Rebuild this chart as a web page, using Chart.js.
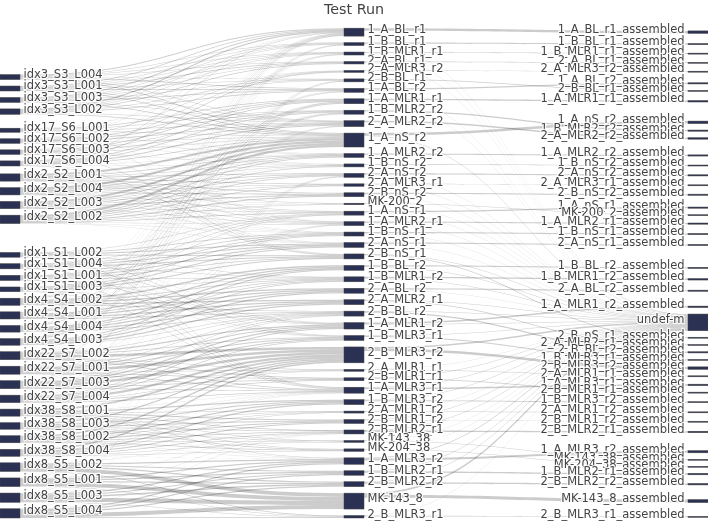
<!DOCTYPE html>
<html>
<head>
<meta charset="utf-8">
<script src="https://cdn.jsdelivr.net/npm/chart.js@4.4.1/dist/chart.umd.min.js"></script>
<style>
  html, body { margin: 0; padding: 0; background: #fff; }
  #wrap { width: 708px; height: 521px; }
</style>
</head>
<body>
<div id="wrap"><canvas id="sankey" width="708" height="521"></canvas></div>
<script>
// sequencing lanes (left column), in display order
const libraries = [
  'idx3_S3_L004', 'idx3_S3_L001', 'idx3_S3_L003', 'idx3_S3_L002',
  'idx17_S6_L001', 'idx17_S6_L002', 'idx17_S6_L003', 'idx17_S6_L004',
  'idx2_S2_L001', 'idx2_S2_L004', 'idx2_S2_L003', 'idx2_S2_L002',
  'idx1_S1_L002', 'idx1_S1_L004', 'idx1_S1_L001', 'idx1_S1_L003',
  'idx4_S4_L002', 'idx4_S4_L001', 'idx4_S4_L004', 'idx4_S4_L003',
  'idx22_S7_L002', 'idx22_S7_L001', 'idx22_S7_L003', 'idx22_S7_L004',
  'idx38_S8_L001', 'idx38_S8_L003', 'idx38_S8_L002', 'idx38_S8_L004',
  'idx8_S5_L002', 'idx8_S5_L001', 'idx8_S5_L003', 'idx8_S5_L004'
];
// relative size of each lane inside its pool
const laneReads = [
  5, 5, 5, 5.5,
  4, 4.5, 4.5, 5,
  6.5, 6.5, 6.5, 7.5,
  5.5, 6, 6, 5.5,
  7, 7, 6.5, 6.5,
  7.5, 7.5, 7.5, 7,
  7.5, 7, 7.5, 7.5,
  7.5, 7.5, 8, 8
];

// samples (middle column), in display order
const samples = [
  '1_A_BL_r1', '1_B_BL_r1', '1_B_MLR1_r1', '2_A_BL_r1', '2_A_MLR3_r2', '2_B_BL_r1',
  '1_A_BL_r2', '1_A_MLR1_r1', '1_B_MLR2_r2', '2_A_MLR2_r2', '1_A_nS_r2', '1_A_MLR2_r2',
  '1_B_nS_r2', '2_A_nS_r2', '2_A_MLR3_r1', '2_B_nS_r2', 'MK-200_2', '1_A_nS_r1',
  '1_A_MLR2_r1', '1_B_nS_r1', '2_A_nS_r1', '2_B_nS_r1', '1_B_BL_r2', '1_B_MLR1_r2',
  '2_A_BL_r2', '2_A_MLR2_r1', '2_B_BL_r2', '1_A_MLR1_r2', '1_B_MLR3_r1', '2_B_MLR3_r2',
  '2_A_MLR1_r1', '2_B_MLR1_r1', '1_A_MLR3_r1', '1_B_MLR3_r2', '2_A_MLR1_r2', '2_B_MLR1_r2',
  '2_B_MLR2_r1', 'MK-143_38', 'MK-204_38', '1_A_MLR3_r2', '1_B_MLR2_r1', '2_B_MLR2_r2',
  'MK-143_8', '2_B_MLR3_r1'
];

// reads from each index pool to each sample (split over the pool's lanes)
const poolToSample = [
  ['idx3_S3', '1_A_BL_r1', 4], ['idx3_S3', '1_B_BL_r1', 2], ['idx3_S3', '1_B_MLR1_r1', 2],
  ['idx3_S3', '2_A_BL_r1', 2.5], ['idx3_S3', '2_B_BL_r1', 2], ['idx3_S3', '1_A_BL_r2', 3],
  ['idx3_S3', '2_A_MLR2_r2', 2], ['idx3_S3', '1_A_nS_r2', 3],

  ['idx17_S6', '1_A_BL_r1', 1], ['idx17_S6', '2_A_MLR3_r2', 2], ['idx17_S6', '1_A_MLR1_r1', 3],
  ['idx17_S6', '1_B_MLR2_r2', 2.5], ['idx17_S6', '2_A_MLR2_r2', 3], ['idx17_S6', '1_A_nS_r2', 2.5],
  ['idx17_S6', '1_A_MLR2_r2', 1], ['idx17_S6', '1_B_nS_r2', 1], ['idx17_S6', '1_A_MLR2_r1', 1],
  ['idx17_S6', '2_B_nS_r1', 1.5],

  ['idx2_S2', '1_A_nS_r2', 8.5], ['idx2_S2', '1_A_MLR2_r2', 3], ['idx2_S2', '1_B_nS_r2', 2],
  ['idx2_S2', '2_A_nS_r2', 3], ['idx2_S2', '2_A_MLR3_r1', 2.5], ['idx2_S2', '2_B_nS_r2', 4],
  ['idx2_S2', 'MK-200_2', 1.5], ['idx2_S2', '1_A_nS_r1', 2], ['idx2_S2', '1_A_MLR2_r1', 2],
  ['idx2_S2', '1_B_nS_r1', 1], ['idx2_S2', '2_A_nS_r1', 1],

  ['idx1_S1', '1_A_nS_r1', 2], ['idx1_S1', '1_B_nS_r1', 3], ['idx1_S1', '2_A_nS_r1', 4],
  ['idx1_S1', '2_B_nS_r1', 3.5], ['idx1_S1', '1_B_MLR1_r2', 2], ['idx1_S1', '1_A_MLR1_r2', 2],
  ['idx1_S1', '1_B_MLR3_r1', 1.5], ['idx1_S1', '1_A_MLR3_r1', 2],

  ['idx4_S4', '1_A_BL_r1', 1.3], ['idx4_S4', '1_B_MLR1_r1', 1], ['idx4_S4', '1_A_BL_r2', 1],
  ['idx4_S4', '1_A_MLR1_r1', 2], ['idx4_S4', '1_B_MLR2_r2', 1.5], ['idx4_S4', '1_B_BL_r2', 5],
  ['idx4_S4', '1_B_MLR1_r2', 3], ['idx4_S4', '2_A_BL_r2', 5], ['idx4_S4', '2_A_MLR2_r1', 5],
  ['idx4_S4', '2_B_BL_r2', 3],

  ['idx22_S7', '1_A_BL_r1', 1.7], ['idx22_S7', '2_A_MLR2_r2', 1], ['idx22_S7', '1_A_MLR2_r1', 1],
  ['idx22_S7', '2_B_BL_r2', 2], ['idx22_S7', '1_A_MLR1_r2', 4.5], ['idx22_S7', '1_B_MLR3_r1', 3.5],
  ['idx22_S7', '2_B_MLR3_r2', 10], ['idx22_S7', '2_A_MLR1_r1', 2], ['idx22_S7', '2_B_MLR1_r1', 3],
  ['idx22_S7', '1_A_MLR3_r1', 3],

  ['idx38_S8', '1_B_BL_r1', 1], ['idx38_S8', '2_B_MLR3_r2', 6], ['idx38_S8', '1_A_MLR3_r1', 1],
  ['idx38_S8', '1_B_MLR3_r2', 5], ['idx38_S8', '2_A_MLR1_r2', 2], ['idx38_S8', '2_B_MLR1_r2', 4],
  ['idx38_S8', '2_B_MLR2_r1', 3], ['idx38_S8', 'MK-143_38', 2], ['idx38_S8', 'MK-204_38', 2.5],
  ['idx38_S8', '1_A_MLR3_r2', 1.5],

  ['idx8_S5', '2_B_BL_r1', 1], ['idx8_S5', '2_A_nS_r2', 1], ['idx8_S5', '2_B_MLR2_r1', 1],
  ['idx8_S5', '1_A_MLR3_r2', 5], ['idx8_S5', '1_B_MLR2_r1', 4.5], ['idx8_S5', '2_B_MLR2_r2', 5],
  ['idx8_S5', 'MK-143_8', 16], ['idx8_S5', '2_B_MLR3_r1', 2.5]
];

// assembly outputs (right column), in display order
const outputs = [
  '1_A_BL_r1_assembled', '1_B_BL_r1_assembled', '1_B_MLR1_r1_assembled', '2_A_BL_r1_assembled',
  '2_A_MLR3_r2_assembled', '1_A_BL_r2_assembled', '2_B_BL_r1_assembled', '1_A_MLR1_r1_assembled',
  '1_A_nS_r2_assembled', '1_B_MLR2_r2_assembled', '2_A_MLR2_r2_assembled', '1_A_MLR2_r2_assembled',
  '1_B_nS_r2_assembled', '2_A_nS_r2_assembled', '2_A_MLR3_r1_assembled', '2_B_nS_r2_assembled',
  '1_A_nS_r1_assembled', 'MK-200_2_assembled', '1_A_MLR2_r1_assembled', '1_B_nS_r1_assembled',
  '2_A_nS_r1_assembled', '1_B_BL_r2_assembled', '1_B_MLR1_r2_assembled', '2_A_BL_r2_assembled',
  '1_A_MLR1_r2_assembled', 'undef-m', '2_B_nS_r1_assembled', '2_A_MLR2_r1_assembled',
  '2_B_BL_r2_assembled', '1_B_MLR3_r1_assembled', '2_B_MLR3_r2_assembled', '2_A_MLR1_r1_assembled',
  '1_A_MLR3_r1_assembled', '2_B_MLR1_r1_assembled', '1_B_MLR3_r2_assembled', '2_A_MLR1_r2_assembled',
  '2_B_MLR1_r2_assembled', '2_B_MLR2_r1_assembled', '1_A_MLR3_r2_assembled', 'MK-143_38_assembled',
  'MK-204_38_assembled', '1_B_MLR2_r1_assembled', '2_B_MLR2_r2_assembled', 'MK-143_8_assembled',
  '2_B_MLR3_r1_assembled'
];
// per sample (same order as samples): reads that assembled, reads left undefined
const assembledReads = [
  2.5, 1.2, 0.8, 0.8, 0.5, 0.8, 1.2, 1.5, 1.2, 1.5, 2.5,
  1.2, 0.8, 1.2, 0.5, 1.2, 0.6, 1.2, 1.2, 1.2, 1.2, 0.8,
  1.2, 1.5, 1.2, 0.8, 1.2, 1.5, 1, 2.5, 0.5, 0.6, 1.5,
  1, 0.5, 0.6, 1.5, 0.5, 0.6, 2.2, 1.5, 1.5, 3, 0.8
];
const undefinedReads = [
  0.2, 0.15, 0.1, 0.15, 0.1, 0.15, 0.2, 0.2, 0.15, 0.2, 0.45,
  0.2, 0.15, 0.2, 0.15, 0.2, 0.1, 0.2, 0.25, 0.25, 0.4, 0.5,
  0.45, 0.5, 0.4, 0.45, 0.5, 0.55, 0.4, 1.6, 0.3, 0.35, 0.55,
  0.5, 0.3, 0.4, 0.5, 0.35, 0.4, 0.6, 0.5, 0.55, 1.7, 0.3
];

const NODE_W = 20;
const NODE_PAD = 6.5;
const CANVAS_W = 708;
const NODE_COLOR = '#2b3153';
const LINK_COLOR = 'rgba(0,0,0,0.2)';
const FONT = '11.5px "DejaVu Sans", Verdana, sans-serif';

const sum = (arr, f) => arr.reduce((a, d) => a + f(d), 0);

// build nodes + links, then a sankey style vertical layout in value units
function buildSankey() {
  const byKey = {};
  const mk = (name, col) => {
    const n = { name, col, sourceLinks: [], targetLinks: [] };
    byKey[col + ':' + name] = n;
    return n;
  };
  const columns = [libraries.map(n => mk(n, 0)), samples.map(n => mk(n, 1)), outputs.map(n => mk(n, 2))];
  const links = [];
  const addLink = (source, target, value) => {
    if (!source || !target || value <= 0) return;
    const l = { source, target, value };
    links.push(l);
    source.sourceLinks.push(l);
    target.targetLinks.push(l);
  };

  poolToSample.forEach(([pool, sample, value]) => {
    const lanes = [];
    libraries.forEach((name, i) => { if (name.startsWith(pool + '_')) lanes.push(i); });
    const total = sum(lanes, i => laneReads[i]);
    lanes.forEach(i => addLink(columns[0][i], byKey['1:' + sample], value * laneReads[i] / total));
  });
  samples.forEach((s, i) => {
    addLink(columns[1][i], byKey['2:' + s + '_assembled'], assembledReads[i]);
    addLink(columns[1][i], byKey['2:undef-m'], undefinedReads[i]);
  });

  columns.flat().forEach(n => {
    n.value = Math.max(sum(n.sourceLinks, l => l.value), sum(n.targetLinks, l => l.value));
  });

  const extent = Math.max(...columns.map(c => sum(c, n => n.value) + (c.length - 1) * NODE_PAD));
  const center = n => (n.y0 + n.y1) / 2;
  const wmean = (ls, other) => sum(ls, l => center(other(l)) * l.value) / sum(ls, l => l.value);

  columns.forEach(c => {
    let y = 0;
    c.forEach(n => { n.y0 = y; n.y1 = y + n.value; y = n.y1 + NODE_PAD; });
  });

  const resolve = c => {
    let y = 0, node, dy;
    for (let i = 0; i < c.length; i++) {
      node = c[i];
      dy = y - node.y0;
      if (dy > 0) { node.y0 += dy; node.y1 += dy; }
      y = node.y1 + NODE_PAD;
    }
    dy = y - NODE_PAD - extent;
    if (dy > 0) {
      node.y0 -= dy; node.y1 -= dy;
      y = node.y0;
      for (let i = c.length - 2; i >= 0; i--) {
        node = c[i];
        dy = node.y1 + NODE_PAD - y;
        if (dy > 0) { node.y0 -= dy; node.y1 -= dy; }
        y = node.y0;
      }
    }
  };
  const shift = (n, ls, other, alpha) => {
    if (!ls.length) return;
    const dy = (wmean(ls, other) - center(n)) * alpha;
    n.y0 += dy; n.y1 += dy;
  };

  let alpha = 1;
  for (let k = 0; k < 32; k++) {
    alpha *= 0.99;
    for (let c = columns.length - 1; c >= 0; c--) {
      columns[c].forEach(n => shift(n, n.sourceLinks, l => l.target, alpha));
      resolve(columns[c]);
    }
    for (let c = 0; c < columns.length; c++) {
      columns[c].forEach(n => shift(n, n.targetLinks, l => l.source, alpha));
      resolve(columns[c]);
    }
  }

  // last column: weighted order-preserving fit to the source positions
  const last = columns[columns.length - 1];
  const off = [];
  last.forEach((n, i) => off.push(i ? off[i - 1] + (last[i - 1].value + n.value) / 2 + NODE_PAD : 0));
  const blocks = [];
  last.forEach((n, i) => {
    const z = (n.targetLinks.length ? wmean(n.targetLinks, l => l.source) : center(n)) - off[i];
    blocks.push({ w: n.value, wz: n.value * z, start: i, end: i });
    while (blocks.length > 1) {
      const b = blocks[blocks.length - 1], a = blocks[blocks.length - 2];
      if (a.wz / a.w <= b.wz / b.w) break;
      a.w += b.w; a.wz += b.wz; a.end = b.end;
      blocks.pop();
    }
  });
  const zMin = last[0].value / 2;
  const zMax = extent - last[last.length - 1].value / 2 - off[last.length - 1];
  blocks.forEach(b => {
    const z = Math.min(zMax, Math.max(zMin, b.wz / b.w));
    for (let i = b.start; i <= b.end; i++) {
      const cy = z + off[i];
      last[i].y0 = cy - last[i].value / 2;
      last[i].y1 = cy + last[i].value / 2;
    }
  });

  // stack link ends inside each node
  columns.flat().forEach(n => {
    n.sourceLinks.sort((a, b) => a.target.y0 - b.target.y0);
    n.targetLinks.sort((a, b) => a.source.y0 - b.source.y0);
    let y = n.y0;
    n.sourceLinks.forEach(l => { l.sy0 = y; y += l.value; l.sy1 = y; });
    y = n.y0;
    n.targetLinks.forEach(l => { l.ty0 = y; y += l.value; l.ty1 = y; });
  });

  return { nodes: columns.flat(), links, extent };
}

const graph = buildSankey();

const sankeyPlugin = {
  id: 'sankeyDraw',
  afterDatasetsDraw(chart) {
    const { ctx } = chart;
    const xs = chart.scales.x, ys = chart.scales.y;
    const left = n => xs.getPixelForValue(n.col) - NODE_W / 2;

    ctx.save();
    // links
    ctx.fillStyle = LINK_COLOR;
    graph.links.forEach(l => {
      const x0 = left(l.source) + NODE_W, x1 = left(l.target);
      const xm = (x0 + x1) / 2;
      const a0 = ys.getPixelForValue(l.sy0), b0 = ys.getPixelForValue(l.sy1);
      const a1 = ys.getPixelForValue(l.ty0), b1 = ys.getPixelForValue(l.ty1);
      ctx.beginPath();
      ctx.moveTo(x0, a0);
      ctx.bezierCurveTo(xm, a0, xm, a1, x1, a1);
      ctx.lineTo(x1, b1);
      ctx.bezierCurveTo(xm, b1, xm, b0, x0, b0);
      ctx.closePath();
      ctx.fill();
    });

    // nodes
    graph.nodes.forEach(n => {
      const x = left(n);
      const y0 = ys.getPixelForValue(n.y0);
      const h = Math.max(1, ys.getPixelForValue(n.y1) - y0);
      ctx.fillStyle = NODE_COLOR;
      ctx.fillRect(x, y0, NODE_W, h);
      ctx.strokeStyle = '#444';
      ctx.lineWidth = 0.5;
      ctx.strokeRect(x, y0, NODE_W, h);
    });

    // labels
    ctx.font = FONT;
    ctx.textBaseline = 'middle';
    ctx.lineJoin = 'round';
    graph.nodes.forEach(n => {
      const yc = ys.getPixelForValue((n.y0 + n.y1) / 2) - 2;
      let x;
      if (n.col === 2) { ctx.textAlign = 'right'; x = left(n) - 3.5; }
      else { ctx.textAlign = 'left'; x = left(n) + NODE_W + 3.5; }
      ctx.strokeStyle = 'rgba(255,255,255,0.85)';
      ctx.lineWidth = 2.5;
      ctx.strokeText(n.name, x, yc);
      ctx.fillStyle = '#444';
      ctx.fillText(n.name, x, yc);
    });
    ctx.restore();
  }
};

const edge = (NODE_W / 2) / ((CANVAS_W - NODE_W) / 2);

new Chart(document.getElementById('sankey'), {
  type: 'scatter',
  data: {
    datasets: [{
      data: graph.nodes.map(n => ({ x: n.col, y: (n.y0 + n.y1) / 2 })),
      pointRadius: 0,
      pointHoverRadius: 0
    }]
  },
  options: {
    responsive: false,
    animation: false,
    events: [],
    layout: { padding: { top: 0, bottom: 3, left: 0, right: 0 } },
    plugins: {
      legend: { display: false },
      tooltip: { enabled: false },
      title: {
        display: true,
        text: 'Test Run',
        color: '#444',
        font: { family: '"DejaVu Sans", Verdana, sans-serif', size: 14.3, weight: 'normal' },
        padding: { top: 2, bottom: 9 }
      }
    },
    scales: {
      x: { type: 'linear', min: -edge, max: 2 + edge, display: false },
      y: { type: 'linear', min: 0, max: graph.extent, reverse: true, display: false }
    }
  },
  plugins: [sankeyPlugin]
});
</script>
</body>
</html>
